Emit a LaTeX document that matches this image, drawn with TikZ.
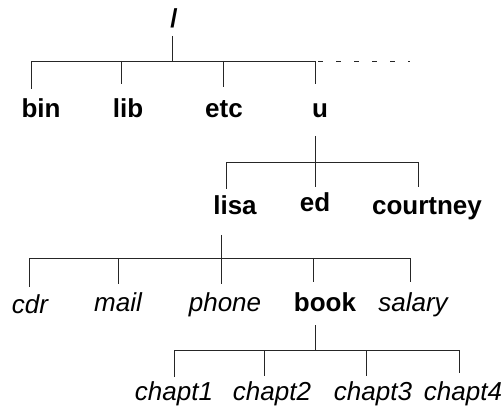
\documentclass[tikz,border=0pt]{standalone}
\usepackage{fontspec}
\setmainfont{Liberation Sans}
\begin{document}
\begin{tikzpicture}[x=1pt,y=-1pt,
  bf/.style={anchor=base,inner sep=0pt,font=\fontsize{26}{30}\selectfont\bfseries},
  it/.style={anchor=base,inner sep=0pt,font=\fontsize{26}{30}\selectfont\itshape},
  ln/.style={line width=0.9pt,black!85}]
\useasboundingbox (0,0) rectangle (504,409);
% nodes
\node[bf] (root) at (174,28) {/};
\node[bf] (bin) at (41,118) {bin};
\node[bf] (lib) at (128,118) {lib};
\node[bf] (etc) at (224,118) {etc};
\node[bf] (u) at (320,118) {u};
\node[bf] (lisa) at (235,215) {lisa};
\node[bf] (ed) at (315,212) {ed};
\node[bf] (courtney) at (427,215) {courtney};
\node[it] (cdr) at (30,313) {cdr};
\node[it] (mail) at (118,312) {mail};
\node[it] (phone) at (225,312) {phone};
\node[bf] (book) at (325,312) {book};
\node[it] (salary) at (413,312) {salary};
\node[it] (c1) at (174,400) {chapt1};
\node[it] (c2) at (272,400) {chapt2};
\node[it] (c3) at (373,400) {chapt3};
\node[it] (c4) at (463,400) {chapt4};
% connector points
\coordinate (rootb) at (172,36);
\coordinate (rootj) at (172,61);
\coordinate (b1l) at (31,61);
\coordinate (b1r) at (315,61);
\coordinate (dashend) at (410,61);
\coordinate (bin-t) at (31,89);
\coordinate (lib-t) at (121,61);
\coordinate (lib-b) at (121,84);
\coordinate (etc-t) at (223,61);
\coordinate (etc-b) at (223,87);
\coordinate (u-t) at (315,84);
\coordinate (ub) at (315,136);
\coordinate (uj) at (315,162);
\coordinate (ed-t) at (315,187);
\coordinate (b2l) at (226,162);
\coordinate (b2r) at (418,162);
\coordinate (lisa-t) at (226,189);
\coordinate (courtney-t) at (418,187);
\coordinate (lisab) at (221,235);
\coordinate (lisaj) at (221,258);
\coordinate (b3l) at (29,258);
\coordinate (b3r) at (410,258);
\coordinate (cdr-t) at (29,287);
\coordinate (mail-j) at (118,258);
\coordinate (mail-t) at (118,284);
\coordinate (phone-t) at (221,284);
\coordinate (book-j) at (313,258);
\coordinate (book-t) at (313,282);
\coordinate (salary-t) at (410,282);
\coordinate (bookb) at (315,325);
\coordinate (bookj) at (315,350);
\coordinate (b4l) at (174,350);
\coordinate (b4r) at (459,350);
\coordinate (c1-t) at (174,377);
\coordinate (c2-j) at (264,350);
\coordinate (c2-t) at (264,376);
\coordinate (c3-j) at (366,350);
\coordinate (c3-t) at (366,376);
\coordinate (c4-t) at (459,373);
% connectors
\draw[ln] (rootb) -- (rootj);
\draw[ln] (bin-t) -- (b1l) -- (b1r) -- (u-t);
\draw[ln] (lib-t) -- (lib-b);
\draw[ln] (etc-t) -- (etc-b);
\draw[ln,dash pattern=on 4.5pt off 13.5pt] ([xshift=3pt]b1r) -- (dashend);
\draw[ln] (ub) -- (ed-t);
\draw[ln] (lisa-t) -- (b2l) -- (b2r) -- (courtney-t);
\draw[ln] (lisab) -- (lisaj);
\draw[ln] (cdr-t) -- (b3l) -- (b3r) -- (salary-t);
\draw[ln] (mail-j) -- (mail-t);
\draw[ln] (lisaj) -- (phone-t);
\draw[ln] (book-j) -- (book-t);
\draw[ln] (bookb) -- (bookj);
\draw[ln] (c1-t) -- (b4l) -- (b4r) -- (c4-t);
\draw[ln] (c2-j) -- (c2-t);
\draw[ln] (c3-j) -- (c3-t);
\end{tikzpicture}
\end{document}
